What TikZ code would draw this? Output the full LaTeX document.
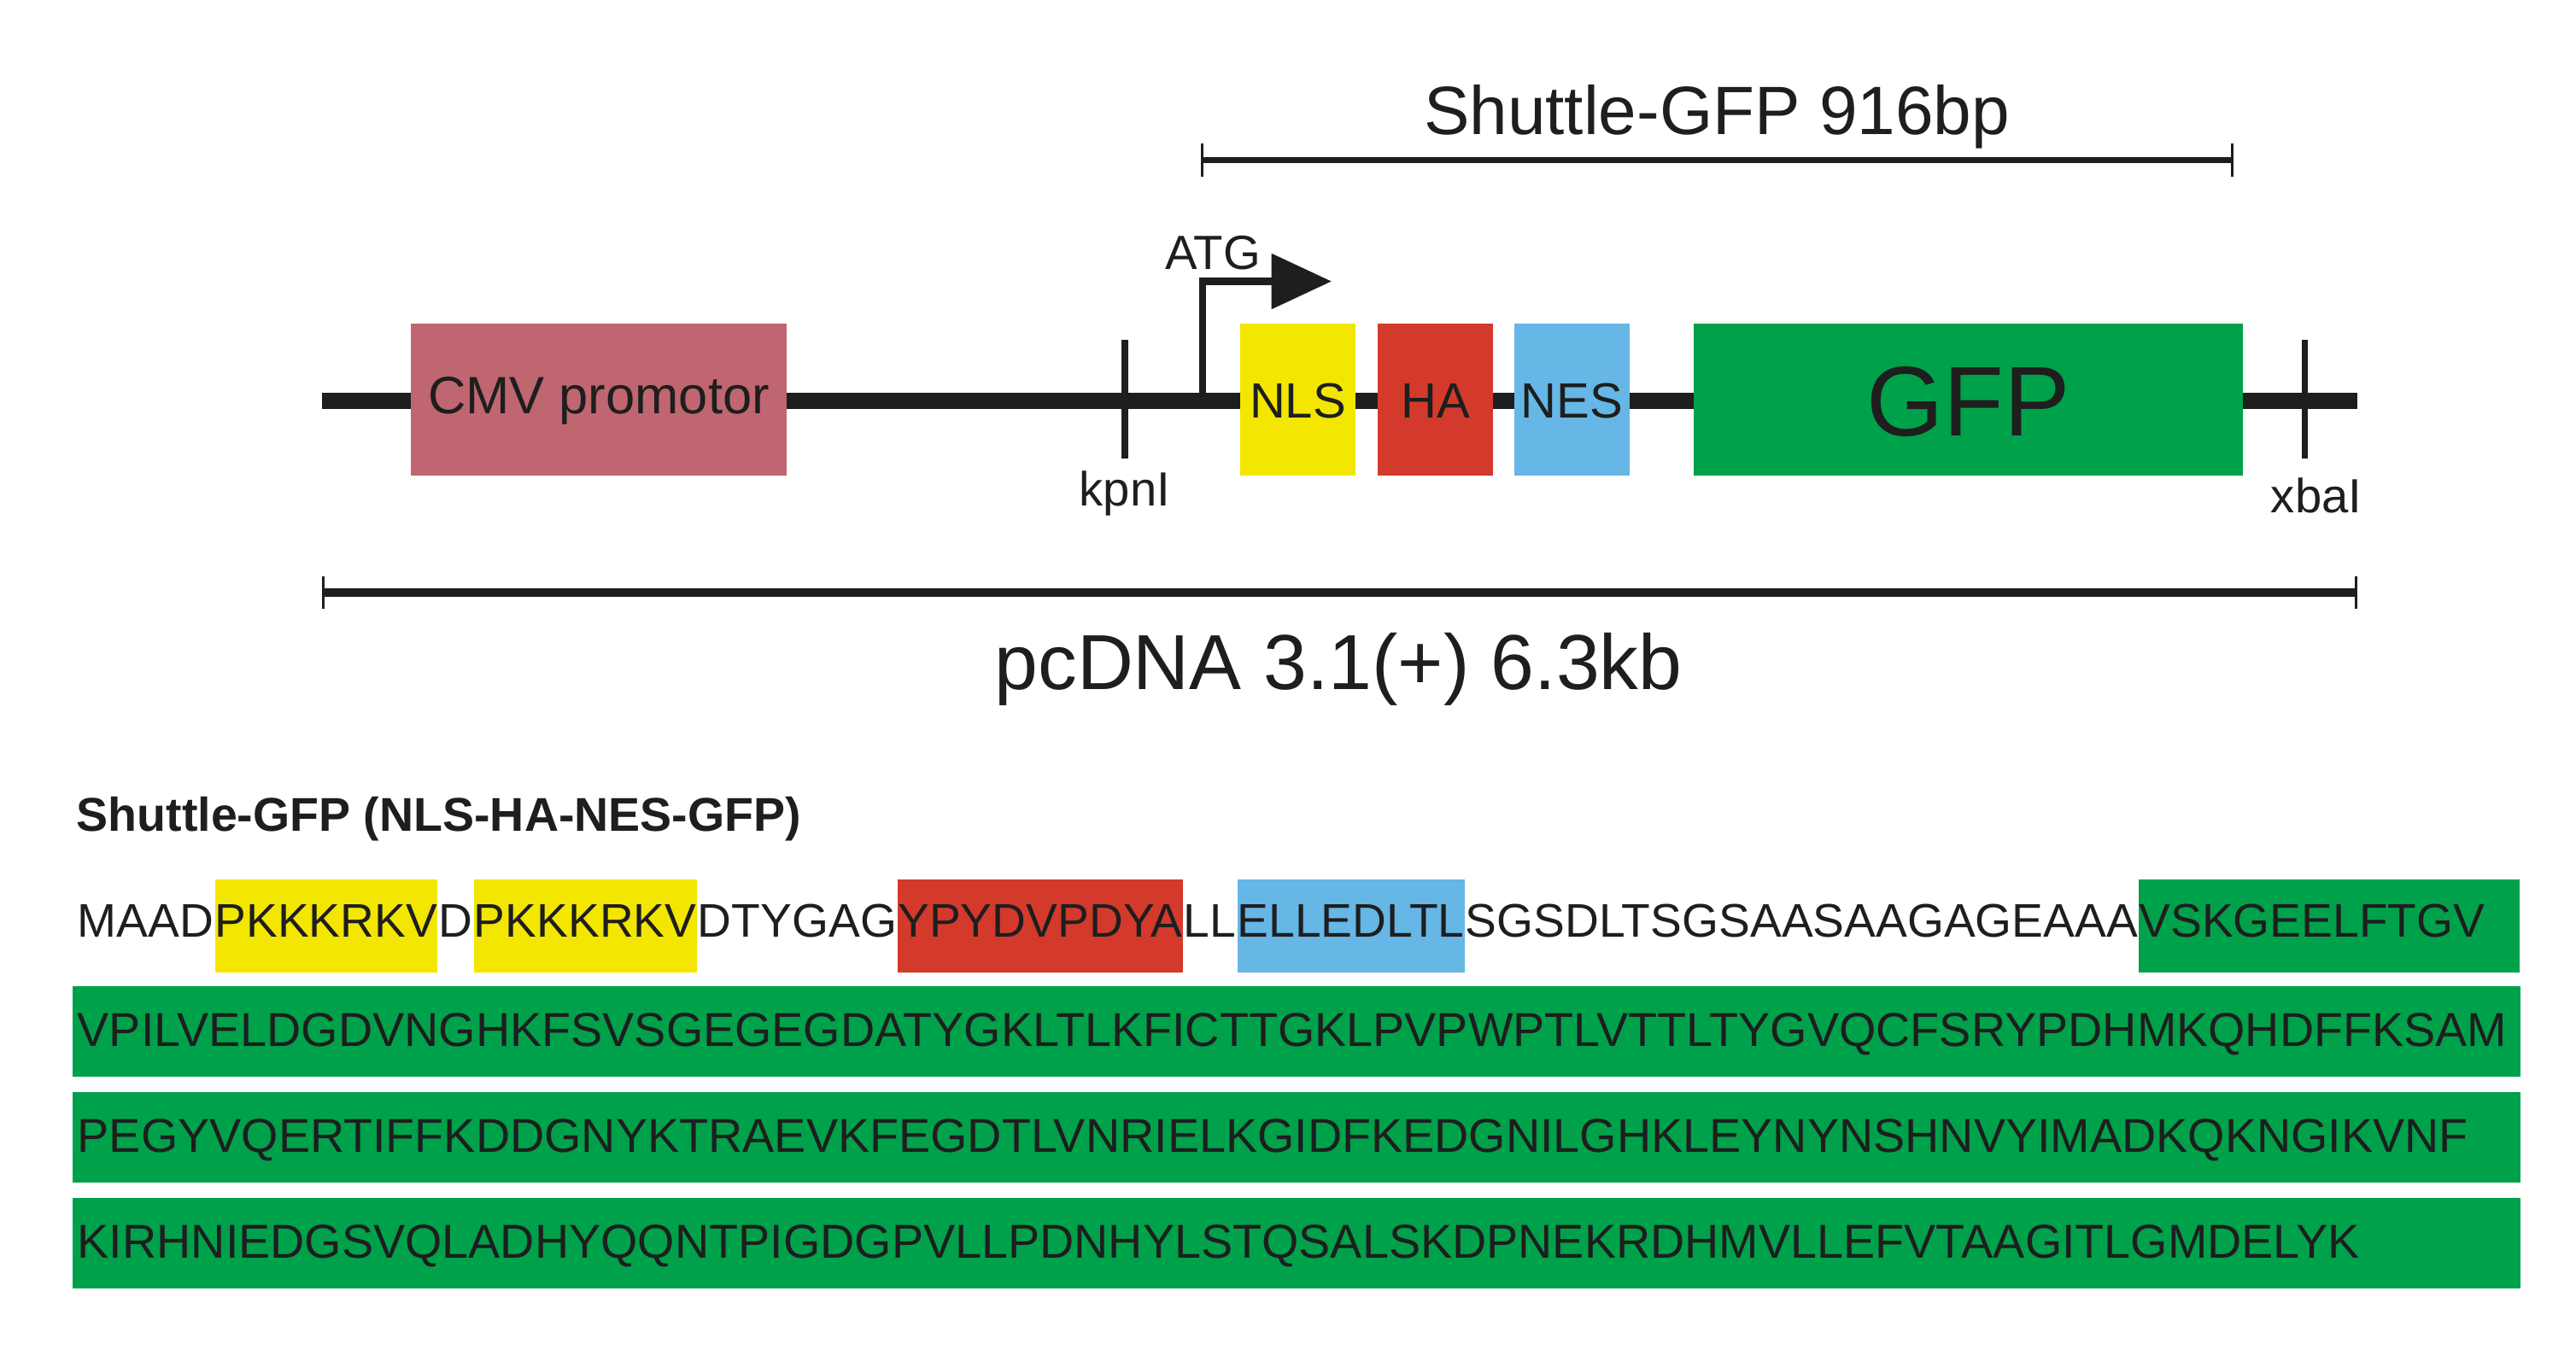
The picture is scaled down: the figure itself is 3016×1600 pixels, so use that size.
\documentclass[tikz,border=0pt]{standalone}
\usepackage{fontspec}
\setmainfont{Liberation Sans}
\usetikzlibrary{arrows.meta,backgrounds}
\definecolor{cmvc}{HTML}{BF6670}
\definecolor{ylw}{HTML}{F3E600}
\definecolor{hared}{HTML}{D33A2B}
\definecolor{nesblue}{HTML}{66B6E6}
\definecolor{gfpg}{HTML}{00A14B}
\definecolor{txt}{HTML}{1E1E1E}
\newcommand\seqfont{\fontsize{15.7}{18}\selectfont}
\newcommand\bandfont{\fontsize{15.85}{18}\selectfont}
\begin{document}
\begin{tikzpicture}[x=0.1mm,y=-0.1mm,
  blk/.style={draw=none, inner sep=0pt, minimum height=17.8mm, text=txt},
  seg/.style={anchor=base west, inner xsep=0pt, inner ysep=0pt, text height=19pt, text depth=12pt, font=\seqfont, text=txt},
  band/.style={draw=none, fill=gfpg, inner sep=0pt, anchor=north west, minimum width=286.6mm, minimum height=10.6mm},
  bandtxt/.style={anchor=base west, inner sep=0pt, font=\bandfont, text=txt},
  backbone/.style={line width=5.4pt, draw=txt},
  site/.style={line width=2pt, draw=txt},
  lbl/.style={anchor=base, inner sep=0pt, text=txt},
  measure/.style={draw=txt, {Bar[width=11pt,line width=0.9pt]}-{Bar[width=11pt,line width=0.9pt]}}
]
\useasboundingbox (0,0) rectangle (3016,1600);

% ---------- construct map ----------
\coordinate (bbL) at (377,469);
\coordinate (bbR) at (2760,469);
\draw[backbone] (bbL) -- (bbR);

\coordinate (kpT) at (1317,398);
\coordinate (kpB) at (1317,537);
\draw[site] (kpT) -- (kpB);
\node[lbl, font=\fontsize{16}{19}\selectfont] (kpn) at (1317,592) {kpnI};

\coordinate (xbT) at (2698,398);
\coordinate (xbB) at (2698,537);
\draw[site] (xbT) -- (xbB);
\node[lbl, font=\fontsize{16}{19}\selectfont] (xba) at (2712,600) {xbaI};

\coordinate (atg0) at (1408,469);
\coordinate (atgtip) at (1559,329.5);
\draw[draw=txt, line width=2.3pt, line join=miter, -{Triangle[length=20pt,width=18pt]}] (atg0) |- (atgtip);
\node[lbl, font=\fontsize{16}{19}\selectfont] (atg) at (1420,315) {ATG};

\node[blk, fill=cmvc, minimum width=44mm, text height=9.1pt, text depth=0pt,
      font=\fontsize{17.5}{20}\selectfont] (cmv) at (701,468) {CMV promotor};
\node[blk, fill=ylw, minimum width=13.5mm, text height=12.5pt, text depth=0pt,
      font=\fontsize{16.5}{19}\selectfont] (nls) at (1519.5,468) {NLS};
\node[blk, fill=hared, minimum width=13.5mm, text height=12.5pt, text depth=0pt,
      font=\fontsize{16.5}{19}\selectfont] (ha) at (1680.5,468) {HA};
\node[blk, fill=nesblue, minimum width=13.5mm, text height=12.5pt, text depth=0pt,
      font=\fontsize{16.5}{19}\selectfont] (nes) at (1840.5,468) {NES};
\node[blk, fill=gfpg, minimum width=64.3mm, text height=23.9pt, text depth=0pt,
      font=\fontsize{33}{38}\selectfont] (gfp) at (2304.5,468) {GFP};

% ---------- measurement bars ----------
\coordinate (sgL) at (1406,187.5);
\coordinate (sgR) at (2615,187.5);
\draw[measure, line width=2pt] (sgL) -- (sgR);
\node[lbl, font=\fontsize{22.8}{27}\selectfont] (sglbl) at (2010,157) {Shuttle-GFP 916bp};

\coordinate (pcL) at (377,694);
\coordinate (pcR) at (2760,694);
\draw[measure, line width=2.6pt] (pcL) -- (pcR);
\node[lbl, font=\fontsize{26}{30}\selectfont] (pclbl) at (1567,807) {pcDNA 3.1(+) 6.3kb};

% ---------- sequence ----------
\node[anchor=base west, inner sep=0pt, text=txt, font=\fontsize{15.8}{18}\selectfont\bfseries] (title) at (89,973) {Shuttle-GFP (NLS-HA-NES-GFP)};

\node[seg] (s1) at (90,1097) {MAAD};
\node[seg, fill=ylw] (s2) at (s1.base east) {PKKKRKV};
\node[seg] (s3) at (s2.base east) {D};
\node[seg, fill=ylw] (s4) at (s3.base east) {PKKKRKV};
\node[seg] (s5) at (s4.base east) {DTYGAG};
\node[seg, fill=hared] (s6) at (s5.base east) {YPYDVPDYA};
\node[seg] (s7) at (s6.base east) {LL};
\node[seg, fill=nesblue] (s8) at (s7.base east) {ELLEDLTL};
\node[seg] (s9) at (s8.base east) {SGSDLTSGSAASAAGAGEAAA};
\node[seg] (s10) at (s9.base east) {VSKGEELFTGV};
\coordinate (l1end) at (2950,1139);
\begin{scope}[on background layer]
  \fill[gfpg] (s10.north west) rectangle (l1end);
\end{scope}

\node[band] (b1) at (84,1154) {};
\node[band] (b2) at (84,1278) {};
\node[band] (b3) at (84,1402) {};
\node[bandtxt] (t1) at (90,1225) {VPILVELDGDVNGHKFSVSGEGEGDATYGKLTLKFICTTGKLPVPWPTLVTTLTYGVQCFSRYPDHMKQHDFFKSAM};
\node[bandtxt] (t2) at (90,1349) {PEGYVQERTIFFKDDGNYKTRAEVKFEGDTLVNRIELKGIDFKEDGNILGHKLEYNYNSHNVYIMADKQKNGIKVNF};
\node[bandtxt] (t3) at (90,1473) {KIRHNIEDGSVQLADHYQQNTPIGDGPVLLPDNHYLSTQSALSKDPNEKRDHMVLLEFVTAAGITLGMDELYK};
\end{tikzpicture}
\end{document}
